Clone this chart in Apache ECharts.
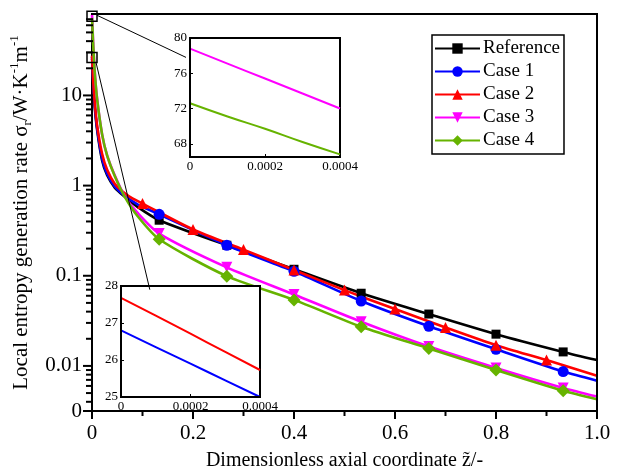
<!DOCTYPE html>
<html>
<head>
<meta charset="utf-8">
<script src="https://cdn.jsdelivr.net/npm/echarts@6/dist/echarts.min.js"></script>
<style>
  html, body { margin: 0; padding: 0; background: #fff; }
  #main { width: 622px; height: 476px; }
</style>
</head>
<body>
<div id="main"></div>
<script>
// dimensionless axial coordinate, two sampling grids (markers every 2/15 or every 0.1)
const zsA = [0, 0.0004, 0.002, 0.005, 0.01, 0.02, 0.03, 0.045, 0.065, 0.09, 0.133, 0.267, 0.4, 0.533, 0.667, 0.8, 0.933, 1.0];
const zsB = [0, 0.0004, 0.002, 0.005, 0.01, 0.02, 0.03, 0.045, 0.065, 0.08, 0.1, 0.2, 0.3, 0.4, 0.5, 0.6, 0.7, 0.8, 0.9, 1.0];

const refVals = [25.5, 24.6, 15, 8, 4.2, 1.9, 1.3, 0.95, 0.75, 0.58, 0.413, 0.218, 0.118, 0.064, 0.0376, 0.0225, 0.0143, 0.0116];
const case1Vals = [26.8, 25.0, 15.5, 8.3, 4.4, 2.0, 1.35, 0.98, 0.77, 0.62, 0.48, 0.218, 0.112, 0.0524, 0.0275, 0.0153, 0.00866, 0.00686];
const case2Vals = [27.7, 25.73, 16, 8.8, 4.7, 2.25, 1.5, 1.05, 0.82, 0.72, 0.632, 0.326, 0.195, 0.116, 0.0693, 0.0427, 0.0267, 0.017, 0.0116, 0.0078];
const case3Vals = [78.8, 72.0, 42, 20, 9.3, 3.7, 2.15, 1.3, 0.76, 0.5, 0.294, 0.124, 0.062, 0.0309, 0.0164, 0.0095, 0.0057, 0.00457];
const case4Vals = [72.6, 66.8, 40, 19.5, 9.2, 3.7, 2.15, 1.28, 0.75, 0.46, 0.254, 0.099, 0.054, 0.0272, 0.0156, 0.0090, 0.0053, 0.00427];

// where the markers sit
const markZ = [0.133, 0.267, 0.4, 0.533, 0.667, 0.8, 0.933];
const triZ = [0.1, 0.2, 0.3, 0.4, 0.5, 0.6, 0.7, 0.8, 0.9];

// insets (zoom near z = 0)
const insetZ = [0, 0.0001, 0.0002, 0.0003, 0.0004];
const inset1Case3 = [78.8, 77.1, 75.4, 73.7, 72.0];
const inset1Case4 = [72.6, 71.1, 69.7, 68.2, 66.8];
const inset2Case2 = [27.68, 27.2, 26.71, 26.22, 25.73];
const inset2Case1 = [26.8, 26.35, 25.9, 25.45, 25.0];

const yMin = Math.pow(10, -2.5), yMax = 80;
const yTickLabels = [yMin, 0.01, 0.1, 1, 10];
const xMajor = [0, 0.2, 0.4, 0.6, 0.8, 1.0];
const xMinor = [0.1, 0.3, 0.5, 0.7, 0.9];
const insetXLabels = [0, 0.0002, 0.0004];
const inset1YLabels = [68, 72, 76, 80];
const inset2YLabels = [25, 26, 27, 28];

// log axis minor ticks at 2..9 x 10^n
const yMinor = [];
for (let e = -3; e <= 1; e++) {
  for (let m = 2; m <= 9; m++) {
    const v = m * Math.pow(10, e);
    if (v > yMin && v < yMax) yMinor.push(v);
  }
}

const FONT = 'Liberation Serif';

function build(zs, vals, marks) {
  return zs.map((z, i) => marks.indexOf(z) >= 0 ? [z, vals[i]] : { value: [z, vals[i]], symbol: 'none' });
}
function pairs(xs, ys) { return xs.map((x, i) => [x, ys[i]]); }

function mainSeries(name, color, zs, vals, marks, symbol, size, rotate) {
  return {
    name: name, type: 'line', xAxisIndex: 0, yAxisIndex: 0,
    data: build(zs, vals, marks), smooth: 0.25,
    showAllSymbol: true, symbol: symbol, symbolSize: size, symbolRotate: rotate || 0,
    itemStyle: { color: color }, lineStyle: { color: color, width: 2.6 },
    emphasis: { disabled: true }
  };
}
function insetSeries(color, xi, yi, data) {
  return {
    type: 'line', xAxisIndex: xi, yAxisIndex: yi, data: data, showSymbol: false, smooth: true,
    lineStyle: { color: color, width: 2 }, z: 20, silent: true
  };
}

const axisText = { color: '#000', fontFamily: FONT, fontSize: 21 };
const smallText = { color: '#000', fontFamily: FONT, fontSize: 13 };

function insetX(gi) {
  return {
    type: 'value', gridIndex: gi, min: 0, max: 0.0004, z: 30,
    axisLine: { show: true, lineStyle: { color: '#000', width: 2 } },
    axisTick: { show: true, inside: true, length: 3, customValues: insetXLabels, lineStyle: { color: '#000' } },
    axisLabel: Object.assign({ customValues: insetXLabels, margin: 3,
      formatter: v => v === 0 ? '0' : v.toFixed(4) }, smallText),
    splitLine: { show: false }
  };
}
function insetY(gi, min, max, labels) {
  return {
    type: 'value', gridIndex: gi, min: min, max: max, z: 30,
    axisLine: { show: true, lineStyle: { color: '#000', width: 2 } },
    axisTick: { show: true, inside: true, length: 3, customValues: labels, lineStyle: { color: '#000' } },
    axisLabel: Object.assign({ customValues: labels, margin: 3 }, smallText),
    splitLine: { show: false }
  };
}

const chart = echarts.init(document.getElementById('main'));
chart.setOption({
  animation: false,
  grid: [
    { left: 92, right: 25, top: 14, bottom: 63 },
    { left: 190, top: 38, width: 150, height: 119 },
    { left: 121, top: 286, width: 139, height: 111 }
  ],
  legend: {
    data: ['Reference', 'Case 1', 'Case 2', 'Case 3', 'Case 4'],
    orient: 'vertical', left: 432, top: 35,
    itemWidth: 45, itemHeight: 13, itemGap: 4,
    padding: [4, 4, 4, 2],
    borderColor: '#000', borderWidth: 1.5, backgroundColor: '#fff',
    textStyle: { color: '#000', fontFamily: FONT, fontSize: 19, lineHeight: 19, padding: [0, 0, 0, -2] }
  },
  xAxis: [
    {
      type: 'value', gridIndex: 0, min: 0, max: 1, interval: 0.2,
      name: 'Dimensionless axial coordinate z\u0303/-', nameLocation: 'middle', nameGap: 40,
      nameTextStyle: { color: '#000', fontFamily: FONT, fontSize: 20 },
      axisLine: { show: true, lineStyle: { color: '#000', width: 2 } },
      axisTick: { show: false },
      axisLabel: Object.assign({ margin: 12, formatter: v => v === 0 ? '0' : v.toFixed(1) }, axisText),
      splitLine: { show: false }
    },
    insetX(1),
    insetX(2)
  ],
  yAxis: [
    {
      type: 'log', gridIndex: 0, position: 'left', min: yMin, max: yMax, logBase: 10,
      name: '{n|Local entropy generation rate \u03c3}{s|r}{n|/W\u00b7K}{p|-1}{n|m}{p|-1}',
      nameLocation: 'middle', nameGap: 37, nameRotate: 90,
      nameTextStyle: {
        color: '#000', fontFamily: FONT, fontSize: 21,
        rich: {
          n: { fontFamily: FONT, fontSize: 21, lineHeight: 26, color: '#000' },
          s: { fontFamily: FONT, fontSize: 13, lineHeight: 13, verticalAlign: 'bottom', color: '#000' },
          p: { fontFamily: FONT, fontSize: 13, lineHeight: 13, verticalAlign: 'top', color: '#000' }
        }
      },
      axisLine: { show: true, lineStyle: { color: '#000', width: 2 } },
      axisTick: { show: false },
      axisLabel: Object.assign({ customValues: yTickLabels, margin: 10,
        formatter: v => v < 0.005 ? '0' : String(+(+v).toPrecision(3)) }, axisText),
      splitLine: { show: false }
    },
    insetY(1, 66.5, 80, inset1YLabels),
    insetY(2, 25, 28, inset2YLabels)
  ],
  series: [
    mainSeries('Reference', '#000000', zsA, refVals, markZ, 'rect', 9),
    mainSeries('Case 1', '#0000ff', zsA, case1Vals, markZ, 'circle', 11),
    mainSeries('Case 2', '#ff0000', zsB, case2Vals, triZ, 'triangle', 11),
    mainSeries('Case 3', '#ff00ff', zsA, case3Vals, markZ, 'triangle', 11, 180),
    mainSeries('Case 4', '#66b300', zsA, case4Vals, markZ, 'diamond', 13),
    insetSeries('#ff00ff', 1, 1, pairs(insetZ, inset1Case3)),
    insetSeries('#66b300', 1, 1, pairs(insetZ, inset1Case4)),
    insetSeries('#ff0000', 2, 2, pairs(insetZ, inset2Case2)),
    insetSeries('#0000ff', 2, 2, pairs(insetZ, inset2Case1))
  ]
});

// overlays placed from the axes: ticks, frame, zoom boxes, connectors, inset backgrounds
function px(gi, pt) { return chart.convertToPixel({ gridIndex: gi }, pt); }
function seg(x1, y1, x2, y2, w, z) {
  return { type: 'line', z: z || 50, shape: { x1: x1, y1: y1, x2: x2, y2: y2 },
    style: { stroke: '#000', lineWidth: w, lineCap: 'square' } };
}
function yTick(v, len) {
  const p = px(0, [0, v]);
  return seg(p[0] - len, p[1], p[0], p[1], 2);
}
function xTick(v, len) {
  const p = px(0, [v, yMin]);
  return seg(p[0], p[1], p[0], p[1] + len, 2);
}
const c0 = px(0, [0, yMax]), c1 = px(0, [1, yMin]);
const box1 = px(0, [0, 75.5]);
const box2 = px(0, [0, 26.4]);
const end1 = px(1, [0, 77.8]);
const end2 = px(2, [0.000083, 27.9]);
const in1a = px(1, [0, 80]), in1b = px(1, [0.0004, 66.5]);
const in2a = px(2, [0, 28]), in2b = px(2, [0.0004, 25]);
const S = 10;
chart.setOption({
  graphic: [
    seg(c0[0], c0[1], c1[0], c0[1], 2, 45),
    seg(c1[0], c0[1], c1[0], c1[1], 2, 45),
    { type: 'rect', z: 10, shape: { x: in1a[0], y: in1a[1], width: in1b[0] - in1a[0], height: in1b[1] - in1a[1] },
      style: { fill: '#fff', stroke: '#000', lineWidth: 2 } },
    { type: 'rect', z: 10, shape: { x: in2a[0], y: in2a[1], width: in2b[0] - in2a[0], height: in2b[1] - in2a[1] },
      style: { fill: '#fff', stroke: '#000', lineWidth: 2 } },
    { type: 'rect', z: 40, shape: { x: box1[0] - S / 2, y: box1[1] - S / 2, width: S, height: S },
      style: { fill: 'none', stroke: '#000', lineWidth: 1.5 } },
    { type: 'rect', z: 40, shape: { x: box2[0] - S / 2, y: box2[1] - S / 2, width: S, height: S },
      style: { fill: 'none', stroke: '#000', lineWidth: 1.5 } },
    { type: 'line', z: 40, shape: { x1: box1[0] + S / 2, y1: box1[1] - 1, x2: end1[0] - 4, y2: end1[1] },
      style: { stroke: '#000', lineWidth: 1 } },
    { type: 'line', z: 40, shape: { x1: box2[0] + S / 2 - 1, y1: box2[1] + S / 2, x2: end2[0], y2: end2[1] },
      style: { stroke: '#000', lineWidth: 1 } }
  ].concat(
    yTickLabels.map(v => yTick(v, 8)),
    yMinor.map(v => yTick(v, 5)),
    xMajor.map(v => xTick(v, 7)),
    xMinor.map(v => xTick(v, 4))
  )
});
</script>
</body>
</html>
